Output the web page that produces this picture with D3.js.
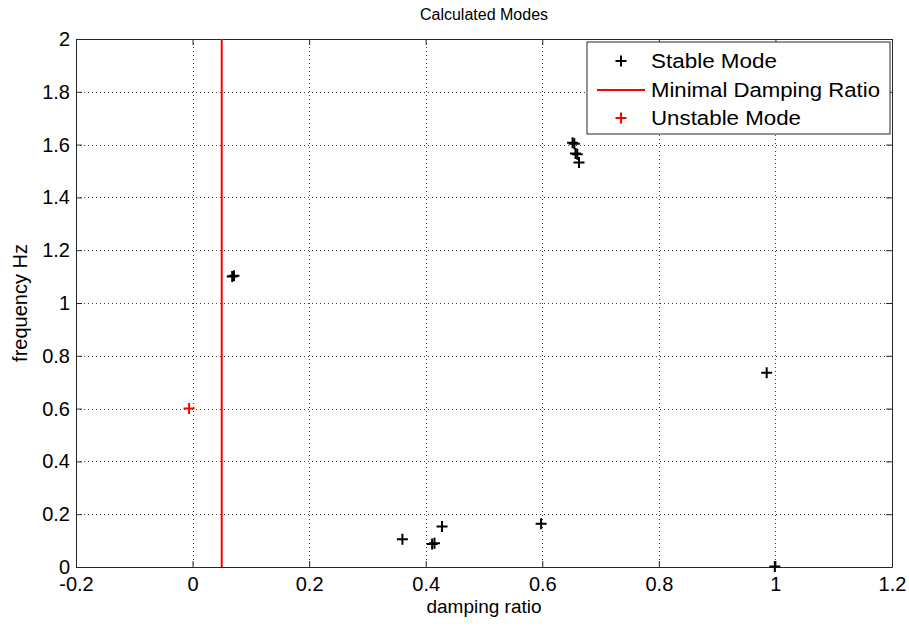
<!DOCTYPE html>
<html>
<head>
<meta charset="utf-8">
<script src="https://cdn.jsdelivr.net/npm/d3@7"></script>
<style>
  body { margin: 0; background: #fff; }
  text { font-family: "Liberation Sans", Arial, sans-serif; fill: #000; }
</style>
</head>
<body>
<div id="chart"></div>
<script>
// modes
const stableZeta = [0.068, 0.071, 0.652, 0.655, 0.657, 0.660, 0.663, 0.360, 0.411, 0.415, 0.428, 0.598, 0.985, 0.999];
const stableFreq = [1.100, 1.103, 1.607, 1.603, 1.566, 1.563, 1.532, 0.105, 0.087, 0.090, 0.153, 0.164, 0.736, 0.002];
const unstableZeta = [-0.006];
const unstableFreq = [0.600];
const minDamping = 0.05;

const xTicks = [-0.2, 0, 0.2, 0.4, 0.6, 0.8, 1, 1.2];
const yTicks = [0, 0.2, 0.4, 0.6, 0.8, 1, 1.2, 1.4, 1.6, 1.8, 2];
const legendLabels = ['Stable Mode', 'Minimal Damping Ratio', 'Unstable Mode'];

const width = 909, height = 631;
const margin = {top: 39, right: 17, bottom: 64, left: 76};
const w = width - margin.left - margin.right;
const h = height - margin.top - margin.bottom;

const svg = d3.select('#chart').append('svg')
    .attr('width', width)
    .attr('height', height);

const g = svg.append('g')
  .attr('transform', `translate(${margin.left}, ${margin.top})`);

const x = d3.scaleLinear().domain([-0.2, 1.2]).range([0, w]);
const y = d3.scaleLinear().domain([0, 2]).range([h, 0]);

const fmt = d => String(d);

// grid
g.append('g').selectAll('line')
  .data(xTicks.slice(1, -1))
  .join('line')
    .attr('x1', d => Math.round(x(d)) + 0.5).attr('x2', d => Math.round(x(d)) + 0.5)
    .attr('y1', 0).attr('y2', h)
    .attr('stroke', '#444').attr('stroke-dasharray', '1,3');
g.append('g').selectAll('line')
  .data(yTicks.slice(1, -1))
  .join('line')
    .attr('y1', d => Math.round(y(d)) + 0.5).attr('y2', d => Math.round(y(d)) + 0.5)
    .attr('x1', 0).attr('x2', w)
    .attr('stroke', '#444').attr('stroke-dasharray', '1,3');

// axes, ticks inward on all four sides
const xAxis = d3.axisBottom(x).tickValues(xTicks).tickFormat(fmt).tickSizeInner(-6).tickSizeOuter(0).tickPadding(10);
const yAxis = d3.axisLeft(y).tickValues(yTicks).tickFormat(fmt).tickSizeInner(-6).tickSizeOuter(0).tickPadding(6);

g.append('g').attr('transform', `translate(0,${h})`).call(xAxis)
  .call(a => a.selectAll('text').attr('font-size', 20));
g.append('g').call(yAxis)
  .call(a => a.selectAll('text').attr('font-size', 20));
g.append('g').call(d3.axisTop(x).tickValues(xTicks).tickFormat('').tickSizeInner(-6).tickSizeOuter(0));
g.append('g').attr('transform', `translate(${w},0)`)
  .call(d3.axisRight(y).tickValues(yTicks).tickFormat('').tickSizeInner(-6).tickSizeOuter(0));
g.selectAll('.domain, .tick line').attr('stroke', '#262626');
g.selectAll('.tick text').attr('fill', '#000').attr('font-family', '"Liberation Sans", Arial, sans-serif');

// minimal damping line
g.append('line')
  .attr('x1', x(minDamping)).attr('x2', x(minDamping))
  .attr('y1', 0).attr('y2', h)
  .attr('stroke', '#ff0000').attr('stroke-width', 2);

const plus = (sel, color) => sel.append('path')
  .attr('d', 'M-5.5,0H5.5M0,-5.5V5.5')
  .attr('stroke', color).attr('stroke-width', 2).attr('fill', 'none');

const stable = stableZeta.map((z, i) => ({z, f: stableFreq[i]}));
const unstable = unstableZeta.map((z, i) => ({z, f: unstableFreq[i]}));

g.selectAll('.stable')
  .data(stable)
  .join('g')
    .attr('class', 'stable')
    .attr('transform', d => `translate(${x(d.z)},${y(d.f)})`)
    .each(function() { plus(d3.select(this), '#000'); });

g.selectAll('.unstable')
  .data(unstable)
  .join('g')
    .attr('class', 'unstable')
    .attr('transform', d => `translate(${x(d.z)},${y(d.f)})`)
    .each(function() { plus(d3.select(this), '#ff0000'); });

// titles
svg.append('text')
  .attr('x', margin.left + w / 2).attr('y', 20)
  .attr('text-anchor', 'middle').attr('font-size', 16)
  .text('Calculated Modes');
svg.append('text')
  .attr('x', margin.left + w / 2).attr('y', 613)
  .attr('text-anchor', 'middle').attr('font-size', 19)
  .text('damping ratio');
svg.append('text')
  .attr('transform', `translate(27,${margin.top + h / 2}) rotate(-90)`)
  .attr('text-anchor', 'middle').attr('font-size', 20)
  .text('frequency Hz');

// legend
const lg = svg.append('g').attr('transform', 'translate(587,42)');
lg.append('rect')
  .attr('width', 303).attr('height', 92)
  .attr('fill', '#fff').attr('stroke', '#262626');
const rowY = [19, 48, 76];
const rowLen = [126, 229, 150];
legendLabels.forEach((t, i) => {
  const row = lg.append('g').attr('transform', `translate(0,${rowY[i]})`);
  if (i === 1) {
    row.append('line').attr('x1', 10).attr('x2', 58)
      .attr('stroke', '#ff0000').attr('stroke-width', 2);
  } else {
    row.append('g').attr('transform', 'translate(34,0)')
      .call(s => plus(s, i === 0 ? '#000' : '#ff0000'));
  }
  row.append('text').attr('x', 64).attr('dy', '0.35em')
    .attr('font-size', 20)
    .attr('textLength', rowLen[i]).attr('lengthAdjust', 'spacingAndGlyphs')
    .text(t);
});
</script>
</body>
</html>
